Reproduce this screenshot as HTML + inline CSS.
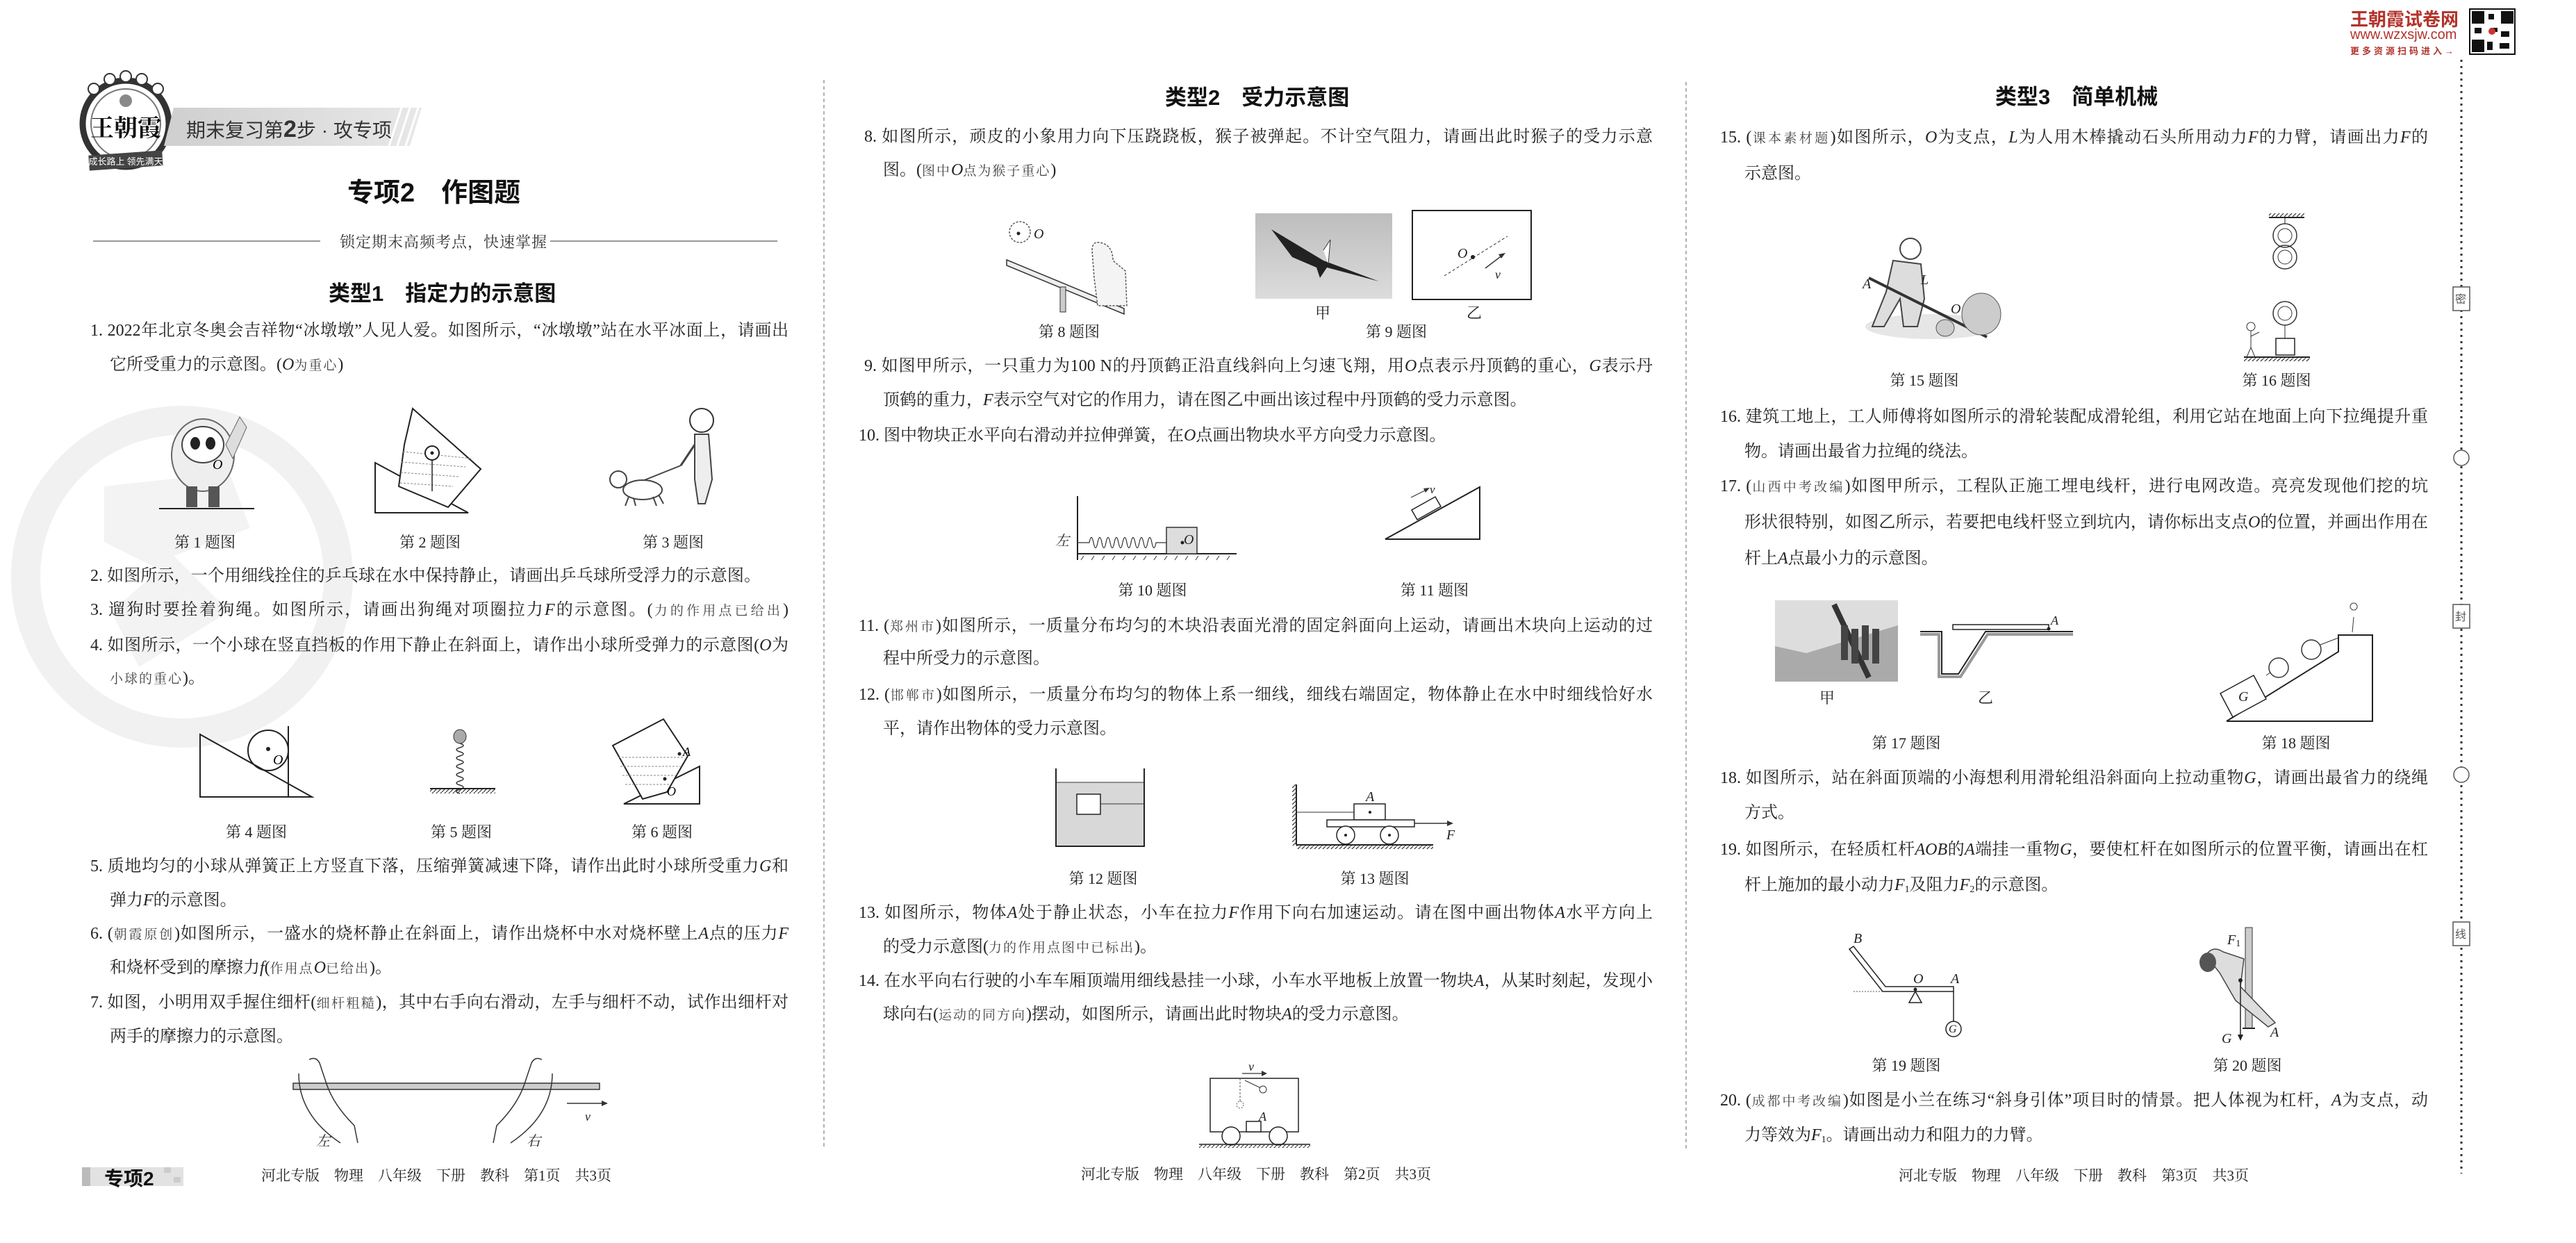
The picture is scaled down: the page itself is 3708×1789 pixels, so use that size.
<!DOCTYPE html>
<html><head><meta charset="utf-8">
<style>
html,body{margin:0;padding:0;background:#fff}
#p{position:relative;width:3708px;height:1789px;overflow:hidden;background:#fff}
.t{position:absolute;font:24px/34px "Liberation Serif","Noto Serif CJK SC",serif;color:#222;white-space:nowrap}
.j{white-space:normal;text-align:justify;text-align-last:justify;height:34px;overflow:hidden}
.s{font-size:19px;color:#444;letter-spacing:2px}
.h{position:absolute;font-family:"Liberation Sans","Noto Sans CJK SC",sans-serif;font-weight:bold;color:#111;white-space:nowrap}
.c{position:absolute;font:22px/30px "Liberation Serif","Noto Serif CJK SC",serif;color:#222;white-space:nowrap;transform:translateX(-50%)}
i{font-style:italic}
sub{font-size:14px;vertical-align:-3px;line-height:0}
svg{position:absolute;left:0;top:0}
</style></head><body><div id="p">
<svg width="3708" height="1789" viewBox="0 0 3708 1789">
<defs>
<pattern id="hat" width="6" height="6" patternUnits="userSpaceOnUse"><line x1="0" y1="6" x2="6" y2="0" stroke="#333" stroke-width="1.2"/></pattern>
<linearGradient id="bn" x1="0" x2="1"><stop offset="0" stop-color="#cfcfcf"/><stop offset="1" stop-color="#e8e8e8"/></linearGradient>
<linearGradient id="sky" x1="0" y1="0" x2="0" y2="1"><stop offset="0" stop-color="#bdbdbd"/><stop offset="1" stop-color="#dcdcdc"/></linearGradient>
</defs>
<!-- watermark -->
<circle cx="262" cy="830" r="225" fill="none" stroke="#f1f1f1" stroke-width="42"/>
<path d="M150 700 L330 680 L360 760 L250 800 L330 880 L200 960 L160 880 L230 820 L150 780Z" fill="#f3f3f3"/>
<!-- logo -->
<circle cx="181" cy="178" r="62" fill="#fff" stroke="#333" stroke-width="9"/>
<circle cx="181" cy="178" r="50" fill="none" stroke="#777" stroke-width="2"/>
<g fill="#fff" stroke="#333" stroke-width="2"><circle cx="135" cy="128" r="8"/><circle cx="158" cy="114" r="8"/><circle cx="181" cy="110" r="8"/><circle cx="204" cy="114" r="8"/><circle cx="227" cy="128" r="8"/></g>
<circle cx="181" cy="145" r="9" fill="#888"/>
<text x="181" y="196" font-family="Noto Serif CJK SC,serif" font-size="34" font-weight="bold" text-anchor="middle" fill="#111">王朝霞</text>
<rect x="128" y="220" width="106" height="22" fill="#444" transform="rotate(-4 181 231)"/>
<text x="181" y="237" font-family="Noto Sans CJK SC,sans-serif" font-size="13" text-anchor="middle" fill="#fff">成长路上 领先满天</text>
<polygon points="250,155 607,155 590,210 236,210" fill="url(#bn)"/>
<g stroke="#fff" stroke-width="3"><line x1="560" y1="210" x2="578" y2="155"/><line x1="572" y1="210" x2="590" y2="155"/><line x1="584" y1="210" x2="602" y2="155"/></g>
<line x1="134" y1="347" x2="461" y2="347" stroke="#999" stroke-width="2"/>
<line x1="792" y1="347" x2="1119" y2="347" stroke="#999" stroke-width="2"/>
<line x1="1186" y1="115" x2="1186" y2="1654" stroke="#999" stroke-width="1.5" stroke-dasharray="5,4"/>
<line x1="2427" y1="118" x2="2427" y2="1654" stroke="#999" stroke-width="1.5" stroke-dasharray="5,4"/>
<line x1="3543" y1="86" x2="3543" y2="1689" stroke="#333" stroke-width="3" stroke-dasharray="3,6"/>
<g fill="#fff" stroke="#555" stroke-width="1.5"><rect x="3531" y="413" width="24" height="34"/><rect x="3531" y="870" width="24" height="34"/><rect x="3531" y="1327" width="24" height="34"/><circle cx="3543" cy="659" r="11"/><circle cx="3543" cy="1115" r="11"/></g>
<!-- fig1 panda -->
<line x1="229" y1="732" x2="366" y2="732" stroke="#222" stroke-width="2"/>
<ellipse cx="292" cy="655" rx="45" ry="52" fill="#eee" stroke="#666" stroke-width="2"/>
<ellipse cx="292" cy="640" rx="30" ry="26" fill="#fff" stroke="#444" stroke-width="2"/>
<ellipse cx="281" cy="638" rx="7" ry="9" fill="#222"/><ellipse cx="303" cy="638" rx="7" ry="9" fill="#222"/>
<rect x="268" y="700" width="16" height="30" fill="#555"/><rect x="300" y="700" width="16" height="30" fill="#555"/>
<path d="M325 640 L345 600 L355 615 L335 660Z" fill="#ddd" stroke="#666"/>
<text x="306" y="675" font-size="20" font-style="italic" font-family="Liberation Serif">O</text>
<!-- fig2 -->
<polygon points="540,666 540,738 674,738" fill="none" stroke="#222" stroke-width="2"/>
<polygon points="594,588 692,675 645,730 574,700 582,640" fill="#fff" stroke="#222" stroke-width="2"/>
<g stroke="#888" stroke-dasharray="3,2"><line x1="580" y1="650" x2="680" y2="660"/><line x1="578" y1="665" x2="670" y2="672"/><line x1="577" y1="680" x2="660" y2="686"/><line x1="576" y1="695" x2="652" y2="700"/></g>
<circle cx="622" cy="652" r="10" fill="#fff" stroke="#222" stroke-width="2"/><circle cx="622" cy="652" r="2.5" fill="#222"/>
<line x1="622" y1="662" x2="622" y2="707" stroke="#222" stroke-width="1.5"/>
<!-- fig3 -->
<circle cx="1010" cy="605" r="17" fill="#fff" stroke="#333" stroke-width="2"/>
<path d="M1000 625 L1020 625 L1025 690 L1015 725 L1005 725 L1000 690Z" fill="#eee" stroke="#444" stroke-width="2"/>
<line x1="1000" y1="640" x2="980" y2="670" stroke="#444" stroke-width="3"/>
<line x1="980" y1="670" x2="905" y2="700" stroke="#444" stroke-width="2"/>
<ellipse cx="925" cy="705" rx="28" ry="14" fill="#fff" stroke="#444" stroke-width="2"/>
<circle cx="890" cy="690" r="12" fill="#fff" stroke="#444" stroke-width="2"/>
<g stroke="#444" stroke-width="2"><line x1="905" y1="715" x2="900" y2="728"/><line x1="912" y1="717" x2="915" y2="728"/><line x1="940" y1="715" x2="945" y2="728"/><line x1="948" y1="712" x2="955" y2="725"/></g>
<!-- fig4 -->
<polygon points="288,1057 288,1147 449,1147" fill="none" stroke="#222" stroke-width="2"/>
<line x1="415" y1="1045" x2="415" y2="1147" stroke="#222" stroke-width="2"/>
<circle cx="386" cy="1080" r="29" fill="none" stroke="#222" stroke-width="2"/>
<circle cx="386" cy="1078" r="3" fill="#222"/>
<text x="393" y="1100" font-size="20" font-style="italic" font-family="Liberation Serif">O</text>
<!-- fig5 -->
<ellipse cx="662" cy="1060" rx="9" ry="10" fill="#aaa" stroke="#333"/>
<path d="M662 1070 q10 3 0 6 q-10 3 0 6 q10 3 0 6 q-10 3 0 6 q10 3 0 6 q-10 3 0 6 q10 3 0 6 q-10 3 0 6 q10 3 0 6 q-10 3 0 6 q10 3 0 6 q-10 3 0 6" fill="none" stroke="#333" stroke-width="1.5"/>
<line x1="619" y1="1135" x2="713" y2="1135" stroke="#222" stroke-width="2"/>
<rect x="619" y="1136" width="94" height="6" fill="url(#hat)"/>
<!-- fig6 -->
<polygon points="898,1157 1007,1157 1007,1103" fill="none" stroke="#222" stroke-width="2"/>
<polygon points="882,1073 955,1035 990,1088 960,1140 925,1150" fill="#fff" stroke="#222" stroke-width="2"/>
<g stroke="#888" stroke-dasharray="3,2"><line x1="890" y1="1090" x2="985" y2="1090"/><line x1="893" y1="1103" x2="982" y2="1103"/><line x1="896" y1="1116" x2="972" y2="1116"/><line x1="900" y1="1129" x2="965" y2="1129"/></g>
<circle cx="978" cy="1085" r="2.5" fill="#222"/><circle cx="957" cy="1121" r="2.5" fill="#222"/>
<text x="983" y="1088" font-size="18" font-style="italic" font-family="Liberation Serif">A</text>
<text x="960" y="1145" font-size="18" font-style="italic" font-family="Liberation Serif">O</text>
<!-- fig7 -->
<rect x="422" y="1559" width="441" height="9" fill="#ccc" stroke="#333" stroke-width="1.5"/>
<path d="M445 1525 q10 -5 15 5 L470 1560 q10 30 40 60 L515 1645 M430 1545 q0 60 60 100" fill="none" stroke="#333" stroke-width="1.5"/>
<path d="M780 1525 q-10 -5 -15 5 L755 1560 q-10 30 -40 60 L710 1645 M795 1545 q0 60 -60 100" fill="none" stroke="#333" stroke-width="1.5"/>
<line x1="816" y1="1588" x2="872" y2="1588" stroke="#333" stroke-width="1.5"/><polygon points="875,1588 866,1584 866,1592" fill="#333"/>
<rect x="118" y="1680" width="146" height="27" fill="#e2e2e2"/><rect x="118" y="1680" width="12" height="27" fill="#bbb"/>
<rect x="236" y="1680" width="10" height="8" fill="#ccc"/><rect x="250" y="1694" width="10" height="8" fill="#ccc"/>
<!-- fig8 -->
<circle cx="1468" cy="334" r="15" fill="#fff" stroke="#555" stroke-dasharray="3,2" stroke-width="1.5"/>
<circle cx="1466" cy="336" r="2.5" fill="#222"/>
<polygon points="1449,374 1618,444 1618,452 1449,382" fill="#eee" stroke="#333" stroke-width="1.5"/>
<rect x="1526" y="413" width="8" height="36" fill="#ccc" stroke="#333"/>
<path d="M1572 360 q0 -15 15 -10 q15 5 15 25 L1620 390 L1622 440 L1580 440 L1575 400Z" fill="#f4f4f4" stroke="#555" stroke-dasharray="3,2" stroke-width="1.5"/>
<!-- fig9 -->
<rect x="1807" y="307" width="197" height="123" fill="url(#sky)"/>
<path d="M1830 330 L1905 375 L1985 405 L1910 385 L1900 400 L1895 385 L1860 370Z" fill="#222"/>
<path d="M1905 360 L1915 345 L1912 380" fill="#fff" stroke="#333"/>
<rect x="2033" y="303" width="171" height="128" fill="none" stroke="#222" stroke-width="2"/>
<line x1="2079" y1="397" x2="2170" y2="340" stroke="#333" stroke-dasharray="4,3"/>
<circle cx="2120" cy="370" r="3" fill="#222"/>
<line x1="2138" y1="386" x2="2163" y2="367" stroke="#333" stroke-width="1.5"/><polygon points="2167,364 2157,366 2161,372" fill="#333"/>
<!-- fig10 -->
<line x1="1551" y1="714" x2="1551" y2="806" stroke="#222" stroke-width="2"/>
<line x1="1551" y1="797" x2="1780" y2="797" stroke="#222" stroke-width="2"/>
<g stroke="#333" stroke-width="1"><line x1="1560" y1="800" x2="1556" y2="806"/><line x1="1575" y1="800" x2="1571" y2="806"/><line x1="1590" y1="800" x2="1586" y2="806"/><line x1="1605" y1="800" x2="1601" y2="806"/><line x1="1620" y1="800" x2="1616" y2="806"/><line x1="1635" y1="800" x2="1631" y2="806"/><line x1="1650" y1="800" x2="1646" y2="806"/><line x1="1665" y1="800" x2="1661" y2="806"/><line x1="1680" y1="800" x2="1676" y2="806"/><line x1="1695" y1="800" x2="1691" y2="806"/><line x1="1710" y1="800" x2="1706" y2="806"/><line x1="1725" y1="800" x2="1721" y2="806"/><line x1="1740" y1="800" x2="1736" y2="806"/><line x1="1755" y1="800" x2="1751" y2="806"/><line x1="1770" y1="800" x2="1766" y2="806"/></g>
<path d="M1551 781 L1568 781 q3 -15 6 0 q3 15 6 0 q3 -15 6 0 q3 15 6 0 q3 -15 6 0 q3 15 6 0 q3 -15 6 0 q3 15 6 0 q3 -15 6 0 q3 15 6 0 q3 -15 6 0 q3 15 6 0 q3 -15 6 0 q3 15 6 0 q3 -15 6 0 q3 15 6 0 L1679 781" fill="none" stroke="#333" stroke-width="1.2"/>
<rect x="1679" y="759" width="44" height="38" fill="#ddd" stroke="#333" stroke-width="1.5"/>
<circle cx="1702" cy="781" r="2.5" fill="#222"/>
<!-- fig11 -->
<polygon points="1994,776 2130,776 2130,701" fill="none" stroke="#222" stroke-width="2"/>
<polygon points="2040,750 2074,731 2066,717 2032,736" fill="#fff" stroke="#222" stroke-width="1.5" transform="translate(0,-2)"/>
<line x1="2031" y1="716" x2="2055" y2="704" stroke="#333" stroke-width="1.2"/><polygon points="2058,702 2049,703 2052,709" fill="#333"/>
<!-- fig12 -->
<rect x="1520" y="1126" width="127" height="92" fill="#d8d8d8"/>
<polyline points="1520,1106 1520,1218 1647,1218 1647,1106" fill="none" stroke="#222" stroke-width="2"/>
<line x1="1520" y1="1126" x2="1647" y2="1126" stroke="#333" stroke-width="1"/>
<rect x="1550" y="1143" width="34" height="29" fill="#fff" stroke="#222" stroke-width="1.5"/>
<line x1="1584" y1="1157" x2="1647" y2="1157" stroke="#333"/>
<!-- fig13 -->
<line x1="1866" y1="1129" x2="1866" y2="1216" stroke="#222" stroke-width="2"/>
<rect x="1860" y="1129" width="6" height="88" fill="url(#hat)"/>
<line x1="1866" y1="1216" x2="2063" y2="1216" stroke="#222" stroke-width="2"/>
<rect x="1866" y="1217" width="197" height="5" fill="url(#hat)"/>
<line x1="1866" y1="1169" x2="1949" y2="1169" stroke="#333"/>
<rect x="1949" y="1157" width="45" height="23" fill="#fff" stroke="#222" stroke-width="1.5"/><circle cx="1972" cy="1169" r="2" fill="#222"/>
<rect x="1910" y="1180" width="126" height="10" fill="#fff" stroke="#222" stroke-width="1.5"/>
<circle cx="1937" cy="1202" r="13" fill="#fff" stroke="#222" stroke-width="1.5"/><circle cx="1937" cy="1202" r="2" fill="#222"/>
<circle cx="2000" cy="1202" r="13" fill="#fff" stroke="#222" stroke-width="1.5"/><circle cx="2000" cy="1202" r="2" fill="#222"/>
<line x1="2036" y1="1185" x2="2088" y2="1185" stroke="#333" stroke-width="1.5"/><polygon points="2092,1185 2083,1181 2083,1189" fill="#333"/>
<!-- fig14 -->
<rect x="1742" y="1552" width="127" height="77" fill="#fff" stroke="#222" stroke-width="1.5"/>
<line x1="1785" y1="1552" x2="1785" y2="1585" stroke="#555" stroke-dasharray="3,2"/><circle cx="1785" cy="1590" r="5" fill="none" stroke="#555" stroke-dasharray="2,2"/>
<line x1="1792" y1="1555" x2="1815" y2="1566" stroke="#333"/><circle cx="1818" cy="1568" r="5" fill="#fff" stroke="#333"/>
<rect x="1794" y="1614" width="21" height="15" fill="#fff" stroke="#222" stroke-width="1.5"/>
<circle cx="1772" cy="1635" r="13" fill="#fff" stroke="#222" stroke-width="1.5"/><circle cx="1840" cy="1635" r="13" fill="#fff" stroke="#222" stroke-width="1.5"/>
<line x1="1726" y1="1647" x2="1886" y2="1647" stroke="#222" stroke-width="1.5"/><rect x="1726" y="1648" width="160" height="4" fill="url(#hat)"/>
<line x1="1788" y1="1545" x2="1820" y2="1545" stroke="#333" stroke-width="1.2"/><polygon points="1824,1545 1816,1541 1816,1549" fill="#333"/>
<!-- QR -->
<g fill="#111"><rect x="3555" y="13" width="65" height="65" fill="#fff" stroke="#111" stroke-width="2"/>
<rect x="3558" y="16" width="18" height="18"/><rect x="3600" y="16" width="18" height="18"/><rect x="3558" y="57" width="18" height="18"/>
<rect x="3582" y="20" width="8" height="8"/><rect x="3585" y="40" width="10" height="6"/><rect x="3600" y="45" width="12" height="8"/><rect x="3580" y="60" width="8" height="12"/><rect x="3598" y="62" width="14" height="8"/><rect x="3562" y="40" width="10" height="8"/></g>
<circle cx="3587" cy="45" r="5" fill="#c33"/>
<!-- fig15 -->
<ellipse cx="2780" cy="470" rx="95" ry="18" fill="#e6e6e6"/>
<circle cx="2750" cy="358" r="15" fill="#fff" stroke="#444" stroke-width="2"/>
<path d="M2725 375 L2765 380 L2770 430 L2760 470 L2740 470 L2735 430 L2712 470 L2695 470 L2715 420Z" fill="#ddd" stroke="#444" stroke-width="2"/>
<line x1="2690" y1="400" x2="2860" y2="485" stroke="#333" stroke-width="4"/>
<ellipse cx="2852" cy="452" rx="28" ry="30" fill="#ccc" stroke="#555"/>
<ellipse cx="2800" cy="472" rx="13" ry="12" fill="#ccc" stroke="#555"/>
<!-- fig16 -->
<line x1="3266" y1="313" x2="3317" y2="313" stroke="#222" stroke-width="2"/><rect x="3266" y="307" width="51" height="6" fill="url(#hat)"/>
<line x1="3289" y1="313" x2="3289" y2="322" stroke="#222"/>
<circle cx="3289" cy="339" r="17" fill="none" stroke="#333" stroke-width="1.5"/><circle cx="3289" cy="339" r="10" fill="none" stroke="#333"/>
<circle cx="3289" cy="370" r="17" fill="none" stroke="#333" stroke-width="1.5"/><circle cx="3289" cy="370" r="10" fill="none" stroke="#333"/>
<circle cx="3289" cy="451" r="17" fill="none" stroke="#333" stroke-width="1.5"/><circle cx="3289" cy="451" r="10" fill="none" stroke="#333"/>
<line x1="3289" y1="468" x2="3289" y2="487" stroke="#333"/>
<rect x="3276" y="487" width="27" height="24" fill="#fff" stroke="#222" stroke-width="1.5"/>
<line x1="3230" y1="514" x2="3325" y2="514" stroke="#222" stroke-width="2"/><rect x="3230" y="515" width="95" height="5" fill="url(#hat)"/>
<circle cx="3240" cy="470" r="6" fill="#fff" stroke="#333"/><path d="M3240 476 L3240 500 L3234 514 M3240 500 L3246 514 M3240 484 L3252 478" fill="none" stroke="#333"/>
<!-- fig17 -->
<rect x="2555" y="864" width="177" height="117" fill="#aaa"/>
<path d="M2555 864 L2732 864 L2732 900 L2600 940 L2555 930Z" fill="#ddd"/>
<line x1="2640" y1="870" x2="2690" y2="975" stroke="#333" stroke-width="8"/>
<g fill="#444"><rect x="2650" y="900" width="10" height="50"/><rect x="2665" y="905" width="10" height="50"/><rect x="2680" y="900" width="10" height="50"/><rect x="2695" y="905" width="10" height="50"/></g>
<polyline points="2764,909 2795,909 2795,970 2819,970 2858,909 2984,909" fill="none" stroke="#222" stroke-width="2"/>
<polyline points="2764,913 2791,913 2791,974 2822,974 2861,913 2984,913" fill="none" stroke="#999" stroke-width="4"/>
<rect x="2811" y="899" width="138" height="7" fill="#fff" stroke="#222" stroke-width="1.5"/>
<circle cx="2949" cy="905" r="2.5" fill="#222"/>
<!-- fig18 -->
<polyline points="3205,1038 3415,1038 3415,914 3366,914 3366,938 3205,1038" fill="none" stroke="#222" stroke-width="2"/>
<polygon points="3196,998 3244,972 3262,1006 3214,1032" fill="#fff" stroke="#222" stroke-width="1.5"/>
<circle cx="3280" cy="961" r="14" fill="#fff" stroke="#333" stroke-width="1.5"/><circle cx="3327" cy="935" r="14" fill="#fff" stroke="#333" stroke-width="1.5"/>
<line x1="3262" y1="972" x2="3268" y2="968" stroke="#333"/><line x1="3340" y1="928" x2="3366" y2="918" stroke="#333"/>
<path d="M3388 878 a5 5 0 1 1 0.1 0 M3388 888 L3386 910" fill="none" stroke="#333"/>
<!-- fig19 -->
<polygon points="2662,1366 2668,1362 2714,1420 2812,1420 2812,1427 2710,1427" fill="#fff" stroke="#222" stroke-width="1.5"/>
<line x1="2668" y1="1427" x2="2710" y2="1427" stroke="#555" stroke-dasharray="2,2"/>
<circle cx="2757" cy="1424" r="2.5" fill="#222"/>
<polygon points="2757,1427 2748,1443 2766,1443" fill="#fff" stroke="#222" stroke-width="1.5"/>
<line x1="2812" y1="1427" x2="2812" y2="1470" stroke="#222" stroke-width="1.5"/>
<circle cx="2812" cy="1481" r="11" fill="#fff" stroke="#222" stroke-width="1.5"/>
<!-- fig20 -->
<rect x="3232" y="1335" width="10" height="145" fill="#ccc" stroke="#333"/>
<line x1="3228" y1="1480" x2="3246" y2="1480" stroke="#222" stroke-width="2"/>
<path d="M3175 1375 q10 -15 25 -5 L3230 1380 L3225 1420 L3275 1472 L3265 1478 L3218 1440 L3195 1400Z" fill="#ddd" stroke="#444" stroke-width="1.5"/>
<ellipse cx="3178" cy="1385" rx="12" ry="14" fill="#555"/>
<line x1="3225" y1="1411" x2="3225" y2="1493" stroke="#222" stroke-width="1.5"/><polygon points="3225,1498 3221,1489 3229,1489" fill="#222"/>
<circle cx="3225" cy="1411" r="3" fill="#222"/>
</svg>

<div class="h" style="left:268px;top:166px;font-size:28px;font-weight:normal;color:#333">期末复习第<b style="font-size:34px">2</b>步 · 攻专项</div>
<div class="h" style="left:500px;top:246px;font-size:38px">专项2　作图题</div>
<div class="t" style="left:489px;top:332px;font-size:22px;color:#333;letter-spacing:1px">锁定期末高频考点，快速掌握</div>
<div class="h" style="left:473px;top:397px;font-size:31px">类型1　指定力的示意图</div>
<div class="h" style="left:1677px;top:115px;font-size:31px">类型2　受力示意图</div>
<div class="h" style="left:2872px;top:114px;font-size:31px">类型3　简单机械</div>
<div class="h" style="left:3383px;top:8px;font-size:26px;color:#b3322b">王朝霞试卷网</div>
<div class="t" style="left:3383px;top:38px;font:20px/24px 'Liberation Sans',sans-serif;color:#b3322b">www.wzxsjw.com</div>
<div class="h" style="left:3383px;top:63px;font-size:13px;color:#b3322b;letter-spacing:4px">更多资源扫码进入→</div>
<div class="h" style="left:3534px;top:417px;font-size:16px;font-weight:normal;color:#555">密</div>
<div class="h" style="left:3534px;top:874px;font-size:16px;font-weight:normal;color:#555">封</div>
<div class="h" style="left:3534px;top:1331px;font-size:16px;font-weight:normal;color:#555">线</div>

<div class="t j" style="left:130px;top:459px;width:1005px">1. 2022年北京冬奥会吉祥物“冰墩墩”人见人爱。如图所示，“冰墩墩”站在水平冰面上，请画出</div>
<div class="t" style="left:158px;top:508px">它所受重力的示意图。(<i>O</i><span class="s">为重心</span>)</div>
<div class="c" style="left:295px;top:766px">第 1 题图</div>
<div class="c" style="left:619px;top:766px">第 2 题图</div>
<div class="c" style="left:969px;top:766px">第 3 题图</div>
<div class="t j" style="left:130px;top:812px;width:965px">2. 如图所示，一个用细线拴住的乒乓球在水中保持静止，请画出乒乓球所受浮力的示意图。</div>
<div class="t j" style="left:130px;top:861px;width:1005px">3. 遛狗时要拴着狗绳。如图所示，请画出狗绳对项圈拉力<i>F</i>的示意图。(<span class="s">力的作用点已给出</span>)</div>
<div class="t j" style="left:130px;top:912px;width:1005px">4. 如图所示，一个小球在竖直挡板的作用下静止在斜面上，请作出小球所受弹力的示意图(<i>O</i>为</div>
<div class="t" style="left:158px;top:959px"><span class="s">小球的重心</span>)。</div>
<div class="c" style="left:369px;top:1183px">第 4 题图</div>
<div class="c" style="left:664px;top:1183px">第 5 题图</div>
<div class="c" style="left:953px;top:1183px">第 6 题图</div>
<div class="t j" style="left:130px;top:1230px;width:1005px">5. 质地均匀的小球从弹簧正上方竖直下落，压缩弹簧减速下降，请作出此时小球所受重力<i>G</i>和</div>
<div class="t" style="left:158px;top:1279px">弹力<i>F</i>的示意图。</div>
<div class="t j" style="left:130px;top:1327px;width:1005px">6. (<span class="s">朝霞原创</span>)如图所示，一盛水的烧杯静止在斜面上，请作出烧杯中水对烧杯壁上<i>A</i>点的压力<i>F</i></div>
<div class="t" style="left:158px;top:1376px">和烧杯受到的摩擦力<i>f</i>(<span class="s">作用点</span><i>O</i><span class="s">已给出</span>)。</div>
<div class="t j" style="left:130px;top:1426px;width:1005px">7. 如图，小明用双手握住细杆(<span class="s">细杆粗糙</span>)，其中右手向右滑动，左手与细杆不动，试作出细杆对</div>
<div class="t" style="left:158px;top:1475px">两手的摩擦力的示意图。</div>
<div class="t" style="left:455px;top:1626px;font-size:20px"><i>左</i></div>
<div class="t" style="left:758px;top:1626px;font-size:20px"><i>右</i></div>
<div class="t" style="left:842px;top:1590px;font-size:18px"><i>v</i></div>
<div class="h" style="left:150px;top:1675px;font-size:28px">专项2</div>
<div class="c" style="left:628px;top:1677px;font-size:21px">河北专版　物理　八年级　下册　教科　第1页　共3页</div>

<div class="t j" style="left:1244px;top:180px;width:1135px">8. 如图所示，顽皮的小象用力向下压跷跷板，猴子被弹起。不计空气阻力，请画出此时猴子的受力示意</div>
<div class="t" style="left:1271px;top:228px">图。(<span class="s">图中</span><i>O</i><span class="s">点为猴子重心</span>)</div>
<div class="t" style="left:1488px;top:320px;font-size:20px"><i>O</i></div>
<div class="t" style="left:2098px;top:348px;font-size:20px"><i>O</i></div>
<div class="t" style="left:2152px;top:378px;font-size:18px"><i>v</i></div>
<div class="c" style="left:1904px;top:436px">甲</div>
<div class="c" style="left:2122px;top:436px">乙</div>
<div class="c" style="left:1539px;top:463px">第 8 题图</div>
<div class="c" style="left:2010px;top:463px">第 9 题图</div>
<div class="t j" style="left:1244px;top:510px;width:1135px">9. 如图甲所示，一只重力为100 N的丹顶鹤正沿直线斜向上匀速飞翔，用<i>O</i>点表示丹顶鹤的重心，<i>G</i>表示丹</div>
<div class="t" style="left:1271px;top:559px">顶鹤的重力，<i>F</i>表示空气对它的作用力，请在图乙中画出该过程中丹顶鹤的受力示意图。</div>
<div class="t" style="left:1236px;top:610px">10. 图中物块正水平向右滑动并拉伸弹簧，在<i>O</i>点画出物块水平方向受力示意图。</div>
<div class="t" style="left:1519px;top:762px;font-size:20px"><i>左</i></div>
<div class="t" style="left:1704px;top:760px;font-size:20px"><i>O</i></div>
<div class="t" style="left:2058px;top:688px;font-size:17px"><i>v</i></div>
<div class="c" style="left:1659px;top:835px">第 10 题图</div>
<div class="c" style="left:2065px;top:835px">第 11 题图</div>
<div class="t j" style="left:1236px;top:884px;width:1143px">11. (<span class="s">郑州市</span>)如图所示，一质量分布均匀的木块沿表面光滑的固定斜面向上运动，请画出木块向上运动的过</div>
<div class="t" style="left:1271px;top:931px">程中所受力的示意图。</div>
<div class="t j" style="left:1236px;top:983px;width:1143px">12. (<span class="s">邯郸市</span>)如图所示，一质量分布均匀的物体上系一细线，细线右端固定，物体静止在水中时细线恰好水</div>
<div class="t" style="left:1271px;top:1032px">平，请作出物体的受力示意图。</div>
<div class="t" style="left:1966px;top:1130px;font-size:20px"><i>A</i></div>
<div class="t" style="left:2082px;top:1185px;font-size:20px"><i>F</i></div>
<div class="c" style="left:1588px;top:1250px">第 12 题图</div>
<div class="c" style="left:1979px;top:1250px">第 13 题图</div>
<div class="t j" style="left:1236px;top:1297px;width:1143px">13. 如图所示，物体<i>A</i>处于静止状态，小车在拉力<i>F</i>作用下向右加速运动。请在图中画出物体<i>A</i>水平方向上</div>
<div class="t" style="left:1271px;top:1346px">的受力示意图(<span class="s">力的作用点图中已标出</span>)。</div>
<div class="t j" style="left:1236px;top:1395px;width:1143px">14. 在水平向右行驶的小车车厢顶端用细线悬挂一小球，小车水平地板上放置一物块<i>A</i>，从某时刻起，发现小</div>
<div class="t" style="left:1271px;top:1443px">球向右(<span class="s">运动的同方向</span>)摆动，如图所示，请画出此时物块<i>A</i>的受力示意图。</div>
<div class="t" style="left:1797px;top:1518px;font-size:18px"><i>v</i></div>
<div class="t" style="left:1812px;top:1590px;font-size:18px"><i>A</i></div>
<div class="c" style="left:1808px;top:1675px;font-size:21px">河北专版　物理　八年级　下册　教科　第2页　共3页</div>

<div class="t j" style="left:2476px;top:181px;width:1019px">15. (<span class="s">课本素材题</span>)如图所示，<i>O</i>为支点，<i>L</i>为人用木棒撬动石头所用动力<i>F</i>的力臂，请画出力<i>F</i>的</div>
<div class="t" style="left:2511px;top:233px">示意图。</div>
<div class="t" style="left:2681px;top:392px;font-size:20px"><i>A</i></div>
<div class="t" style="left:2765px;top:386px;font-size:20px"><i>L</i></div>
<div class="t" style="left:2808px;top:428px;font-size:20px"><i>O</i></div>
<div class="c" style="left:2770px;top:533px">第 15 题图</div>
<div class="c" style="left:3277px;top:533px">第 16 题图</div>
<div class="t j" style="left:2476px;top:583px;width:1019px">16. 建筑工地上，工人师傅将如图所示的滑轮装配成滑轮组，利用它站在地面上向下拉绳提升重</div>
<div class="t" style="left:2511px;top:633px">物。请画出最省力拉绳的绕法。</div>
<div class="t j" style="left:2476px;top:683px;width:1019px">17. (<span class="s">山西中考改编</span>)如图甲所示，工程队正施工埋电线杆，进行电网改造。亮亮发现他们挖的坑</div>
<div class="t j" style="left:2511px;top:735px;width:984px">形状很特别，如图乙所示，若要把电线杆竖立到坑内，请你标出支点<i>O</i>的位置，并画出作用在</div>
<div class="t" style="left:2511px;top:787px">杆上<i>A</i>点最小力的示意图。</div>
<div class="t" style="left:2952px;top:876px;font-size:18px"><i>A</i></div>
<div class="c" style="left:2630px;top:990px">甲</div>
<div class="c" style="left:2858px;top:990px">乙</div>
<div class="t" style="left:3222px;top:986px;font-size:20px"><i>G</i></div>
<div class="c" style="left:2744px;top:1055px">第 17 题图</div>
<div class="c" style="left:3305px;top:1055px">第 18 题图</div>
<div class="t j" style="left:2476px;top:1103px;width:1019px">18. 如图所示，站在斜面顶端的小海想利用滑轮组沿斜面向上拉动重物<i>G</i>，请画出最省力的绕绳</div>
<div class="t" style="left:2511px;top:1153px">方式。</div>
<div class="t j" style="left:2476px;top:1206px;width:1019px">19. 如图所示，在轻质杠杆<i>AOB</i>的<i>A</i>端挂一重物<i>G</i>，要使杠杆在如图所示的位置平衡，请画出在杠</div>
<div class="t" style="left:2511px;top:1257px">杆上施加的最小动力<i>F</i><sub>1</sub>及阻力<i>F</i><sub>2</sub>的示意图。</div>
<div class="t" style="left:2668px;top:1334px;font-size:20px"><i>B</i></div>
<div class="t" style="left:2754px;top:1392px;font-size:20px"><i>O</i></div>
<div class="t" style="left:2808px;top:1392px;font-size:20px"><i>A</i></div>
<div class="t" style="left:2805px;top:1465px;font-size:16px"><i>G</i></div>
<div class="t" style="left:3206px;top:1336px;font-size:20px"><i>F</i><sub>1</sub></div>
<div class="t" style="left:3198px;top:1478px;font-size:20px"><i>G</i></div>
<div class="t" style="left:3268px;top:1469px;font-size:20px"><i>A</i></div>
<div class="c" style="left:2744px;top:1519px">第 19 题图</div>
<div class="c" style="left:3235px;top:1519px">第 20 题图</div>
<div class="t j" style="left:2476px;top:1567px;width:1019px">20. (<span class="s">成都中考改编</span>)如图是小兰在练习“斜身引体”项目时的情景。把人体视为杠杆，<i>A</i>为支点，动</div>
<div class="t" style="left:2511px;top:1617px">力等效为<i>F</i><sub>1</sub>。请画出动力和阻力的力臂。</div>
<div class="c" style="left:2985px;top:1677px;font-size:21px">河北专版　物理　八年级　下册　教科　第3页　共3页</div>
</div></body></html>
